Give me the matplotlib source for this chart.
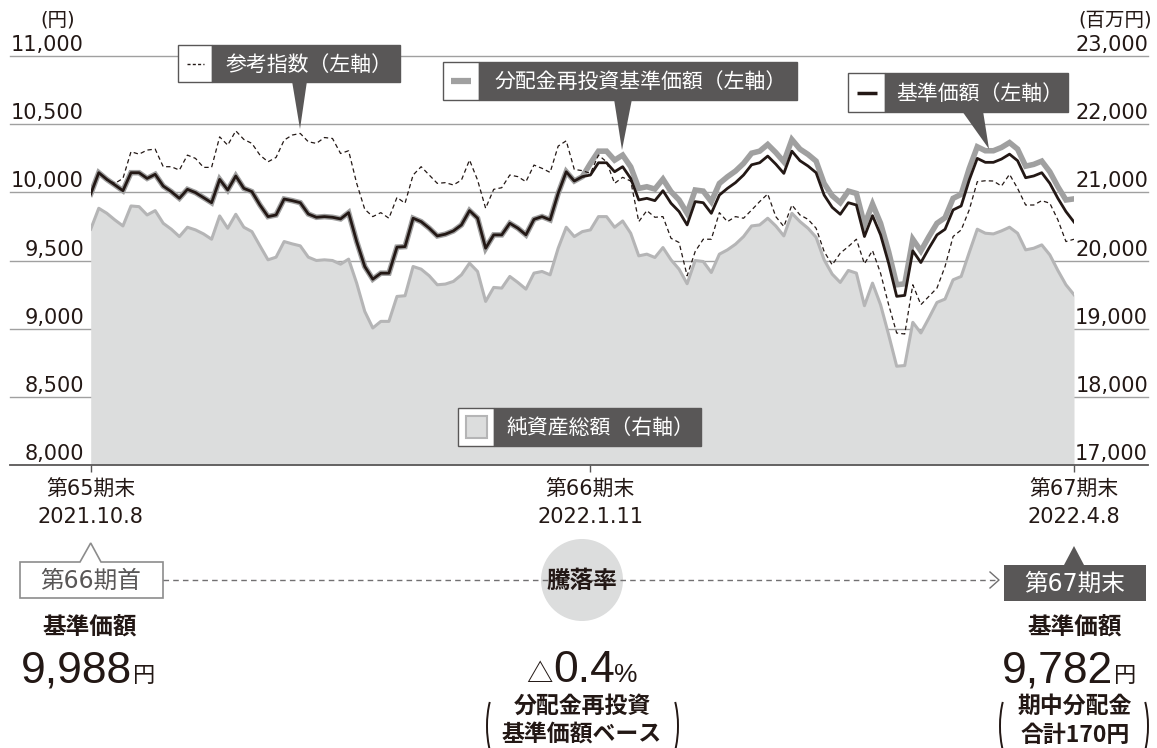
import matplotlib
matplotlib.use("Agg")
import matplotlib.pyplot as plt
from matplotlib.patches import Rectangle, Polygon, Circle, Arc
from matplotlib.transforms import offset_copy

plt.rcParams['font.family'] = ['DejaVu Sans', 'Noto Sans CJK JP']

# --- data (one value per business day) ---
base = [9988, 10144, 10095, 10054, 10012, 10144, 10144, 10102, 10132, 10046,
        10005, 9956, 10022, 9998, 9961, 9924, 10095, 10017, 10120, 10029,
        10005, 9907, 9822, 9834, 9951, 9939, 9924, 9841, 9817, 9822,
        9817, 9805, 9851, 9639, 9456, 9363, 9407, 9407, 9598, 9602,
        9810, 9785, 9737, 9680, 9693, 9717, 9761, 9866, 9810, 9590,
        9688, 9688, 9773, 9737, 9688, 9802, 9822, 9798, 9993, 10151,
        10083, 10115, 10127, 10217, 10217, 10151, 10188, 10102, 9944, 9956,
        9939, 10012, 9920, 9859, 9761, 9932, 9924, 9846, 9980, 10029,
        10071, 10127, 10202, 10217, 10266, 10207, 10139, 10302, 10232, 10193,
        10144, 9980, 9890, 9839, 9924, 9907, 9676, 9829, 9688, 9480,
        9237, 9244, 9571, 9485, 9590, 9688, 9729, 9871, 9900, 10090,
        10249, 10220, 10220, 10244, 10280, 10232, 10107, 10120, 10144, 10066,
        9956, 9859, 9782]

# reinvested NAV equals base until the 66th period end, then sits above it
reinvest_tail = [10212, 10302, 10302, 10236, 10273, 10187, 10029, 10041, 10024, 10097,
                 10005, 9944, 9846, 10017, 10009, 9931, 10065, 10114, 10156, 10212,
                 10287, 10302, 10351, 10292, 10224, 10387, 10317, 10278, 10229, 10065,
                 9975, 9924, 10009, 9992, 9761, 9914, 9773, 9565, 9322, 9329,
                 9656, 9570, 9675, 9773, 9814, 9956, 9985, 10175, 10334, 10305,
                 10305, 10329, 10365, 10317, 10192, 10205, 10229, 10151, 10041, 9944,
                 9952]
reinvest = base[:62] + reinvest_tail

ref_index = [9988, 10144, 10090, 10066, 10102, 10298, 10280, 10310, 10317, 10188,
             10188, 10163, 10273, 10249, 10183, 10183, 10407, 10346, 10451, 10388,
             10359, 10273, 10224, 10256, 10383, 10420, 10432, 10371, 10359, 10402,
             10395, 10285, 10305, 10066, 9876, 9822, 9851, 9810, 9963, 9920,
             10127, 10188, 10127, 10066, 10071, 10054, 10090, 10237, 10090, 9883,
             10022, 10034, 10127, 10115, 10078, 10200, 10176, 10146, 10339, 10378,
             10168, 10159, 10139, 10273, 10224, 10066, 10110, 10083, 9785, 9866,
             9817, 9822, 9663, 9632, 9388, 9566, 9656, 9656, 9851, 9785,
             9822, 9810, 9870, 9932, 9988, 9822, 9749, 9907, 9834, 9802,
             9737, 9566, 9468, 9554, 9602, 9656, 9476, 9573, 9407, 9176,
             8968, 8961, 9322, 9176, 9237, 9298, 9456, 9676, 9724, 9871,
             10078, 10085, 10083, 10046, 10132, 10029, 9907, 9907, 9939, 9920,
             9798, 9639, 9656]

# 純資産総額 (百万円)
nav = [20459, 20766, 20693, 20595, 20507, 20800, 20790, 20668, 20732, 20546,
       20459, 20351, 20488, 20449, 20390, 20312, 20654, 20473, 20678, 20488,
       20424, 20215, 20010, 20049, 20278, 20244, 20215, 20049, 20000, 20010,
       20000, 19946, 20020, 19668, 19254, 19010, 19107, 19107, 19473, 19483,
       19912, 19873, 19776, 19644, 19654, 19693, 19790, 19961, 19839, 19400,
       19605, 19595, 19766, 19678, 19580, 19815, 19839, 19790, 20180, 20488,
       20351, 20424, 20449, 20644, 20644, 20488, 20580, 20400, 20068, 20093,
       20044, 20190, 20010, 19873, 19659, 20000, 19985, 19824, 20093, 20156,
       20239, 20351, 20507, 20522, 20620, 20507, 20361, 20693, 20571, 20473,
       20341, 20010, 19800, 19678, 19854, 19815, 19337, 19668, 19351, 18912,
       18449, 18459, 19093, 18937, 19156, 19385, 19434, 19717, 19766, 20117,
       20459, 20400, 20390, 20434, 20488, 20400, 20156, 20180, 20229, 20083,
       19854, 19644, 19498]

period_idx = [0, 62, 122]
period_names = ['第65期末', '第66期末', '第67期末']
period_dates = ['2021.10.8', '2022.1.11', '2022.4.8']
left_ticks = [8000, 8500, 9000, 9500, 10000, 10500, 11000]
right_ticks = [17000, 18000, 19000, 20000, 21000, 22000, 23000]

DARK = '#595757'
INK = '#231815'
JP = ['Noto Sans CJK JP']
W, H = 1157, 748
L, R, T, B = 90.7, 1074, 56, 465

fig = plt.figure(figsize=(W / 100, H / 100), dpi=100)
ax = fig.add_axes([L / W, 1 - B / H, (R - L) / W, (B - T) / H])
ax2 = ax.twinx()
ax.set_zorder(ax2.get_zorder() + 1)
ax.patch.set_visible(False)

x = list(range(len(base)))
ax.set_xlim(0, len(base) - 1)
ax.set_ylim(8000, 11000)
ax2.set_ylim(17000, 23000)

gx0 = (10 - L) / (R - L)
gx1 = (1148 - L) / (R - L)
for v in right_ticks[1:]:
    ax2.axhline(v, gx0, gx1, color='#a0a0a0', lw=1, clip_on=False, zorder=0)
ax2.fill_between(x, 17000, nav, color='#dcdddd', lw=0, zorder=1)
ax2.plot(x, nav, color='#b5b5b6', lw=2.2, zorder=2)

ax.axhline(8000, gx0, gx1, color=DARK, lw=1.3, clip_on=False)
ax.plot(x, reinvest, color='#a0a0a0', lw=4.0, solid_joinstyle='miter')
ax.plot(x, ref_index, color=INK, lw=0.9, dashes=(3.5, 2.5))
ax.plot(x, base, color=INK, lw=2.0)

for a in (ax, ax2):
    for s in a.spines.values():
        s.set_visible(False)
    a.set_yticks([])
ax.set_xticks(period_idx)
ax.tick_params(axis='x', length=5, width=1, color=DARK, labelbottom=False)

tl = offset_copy(ax.get_yaxis_transform(), fig=fig, y=5, units='dots')
for v in left_ticks:
    ax.text((84 - L) / (R - L), v, f'{v:,}', transform=tl, ha='right',
            va='baseline', fontsize=15, color=INK)
tr = offset_copy(ax2.get_yaxis_transform(), fig=fig, y=5, units='dots')
for v in right_ticks:
    ax2.text(gx1, v, f'{v:,}', transform=tr, ha='right', va='baseline',
             fontsize=15, color=INK)

for i, name, d in zip(period_idx, period_names, period_dates):
    ax.text(i, (B - 490) / (B - T), name, transform=ax.get_xaxis_transform(),
            ha='center', va='center', fontsize=15, color=INK, clip_on=False)
    ax.text(i, (B - 517) / (B - T), d, transform=ax.get_xaxis_transform(),
            ha='center', va='center', fontsize=15, color=INK, clip_on=False)

# overlay in pixel coordinates for the callouts and the summary block
ov = fig.add_axes([0, 0, 1, 1])
ov.set_xlim(0, W)
ov.set_ylim(H, 0)
ov.axis('off')
ov.set_zorder(10)

ov.text(58, 20, '(円)', ha='center', va='center', fontsize=14, color=INK)
ov.text(1115, 20, '(百万円)', ha='center', va='center', fontsize=14, color=INK)


def callout(x0, x1, x2, y0, y1, label, pointer=None):
    ov.add_patch(Rectangle((x0, y0), x1 - x0, y1 - y0, fc='white', ec=DARK, lw=1))
    ov.add_patch(Rectangle((x1, y0), x2 - x1, y1 - y0, fc=DARK, ec=DARK, lw=1))
    if pointer:
        ov.add_patch(Polygon(pointer, closed=True, fc=DARK, ec='none'))
    ov.text((x1 + x2) / 2 + 3, (y0 + y1) / 2 + 1, label, color='white',
            fontsize=15, ha='center', va='center')


callout(178, 212, 400, 45, 82, '参考指数（左軸）', [(292, 81), (307, 81), (300, 129)])
ov.plot([187, 204], [63.5, 63.5], color=INK, lw=1, dashes=(2.2, 1.6))

callout(443, 479, 797, 62, 100, '分配金再投資基準価額（左軸）', [(614, 99), (632, 99), (622, 150)])
ov.plot([451, 471], [81, 81], color='#a0a0a0', lw=4.5, solid_capstyle='butt')

callout(848, 885, 1068, 73, 112, '基準価額（左軸）', [(962, 111), (983, 111), (989, 149)])
ov.plot([857, 877], [92.5, 92.5], color=INK, lw=2.5, solid_capstyle='butt')

callout(458, 494, 701, 408, 446, '純資産総額（右軸）')
ov.add_patch(Rectangle((466, 416), 21, 22, fc='#dcdddd', ec='#b5b5b6', lw=1.5))

# summary row
ov.plot([163, 997], [580, 580], color='#717071', lw=1, dashes=(4, 3))
ov.plot([990, 999, 990], [572, 580, 588], color='#717071', lw=1)
ov.add_patch(Polygon([(20, 562), (80, 562), (90.7, 543), (101, 562), (163, 562),
                      (163, 598), (20, 598)], closed=True, fc='white', ec='#8c8c8c', lw=1.2))
ov.text(91, 581, '第66期首', ha='center', va='center', fontsize=17, color=DARK)
ov.add_patch(Circle((582, 580), 41, fc='#dcdddd', ec='none'))
ov.text(582, 581, '騰落率', ha='center', va='center', fontsize=17, color=INK,
        fontweight='bold', family=JP)
ov.add_patch(Polygon([(1004, 565), (1064, 565), (1074, 546), (1084, 565), (1146, 565),
                      (1146, 601), (1004, 601)], closed=True, fc=DARK, ec='none'))
ov.text(1075, 584, '第67期末', ha='center', va='center', fontsize=17, color='white')

for cx in (90, 1075):
    ov.text(cx, 627, '基準価額', ha='center', va='center', fontsize=17, color=INK,
            fontweight='bold', family=JP)

big = dict(fontsize=32, color=INK, va='baseline', family=['Liberation Sans'])
small = dict(fontsize=16, color=INK, va='baseline', family=JP)
ov.text(132, 682, '9,988', ha='right', **big)
ov.text(133, 682, '円', ha='left', **small)
ov.text(1113, 682, '9,782', ha='right', **big)
ov.text(1114, 682, '円', ha='left', **small)

ov.text(553, 682, '△', ha='right', va='baseline', fontsize=19, color=INK, family=JP)
ov.text(553, 682, '0.4', ha='left', **big)
ov.text(614, 682, '%', ha='left', va='baseline', fontsize=19, color=INK,
        family=['Liberation Sans'])

for cx, lines in ((582, ['分配金再投資', '基準価額ベース']), (1075, ['期中分配金', '合計170円'])):
    ov.text(cx, 706, lines[0], ha='center', va='center', fontsize=16.5, color=INK,
            fontweight='bold', family=JP)
    ov.text(cx, 735, lines[1], ha='center', va='center', fontsize=16.5, color=INK,
            fontweight='bold', family=JP)

for lx, rx in ((487, 678), (1000, 1148)):
    ov.add_patch(Arc((lx + 14, 726), 28, 80, theta1=115, theta2=245, color=INK, lw=1.4))
    ov.add_patch(Arc((rx - 14, 726), 28, 80, theta1=-65, theta2=65, color=INK, lw=1.4))

fig.savefig('out.png', dpi=100)
